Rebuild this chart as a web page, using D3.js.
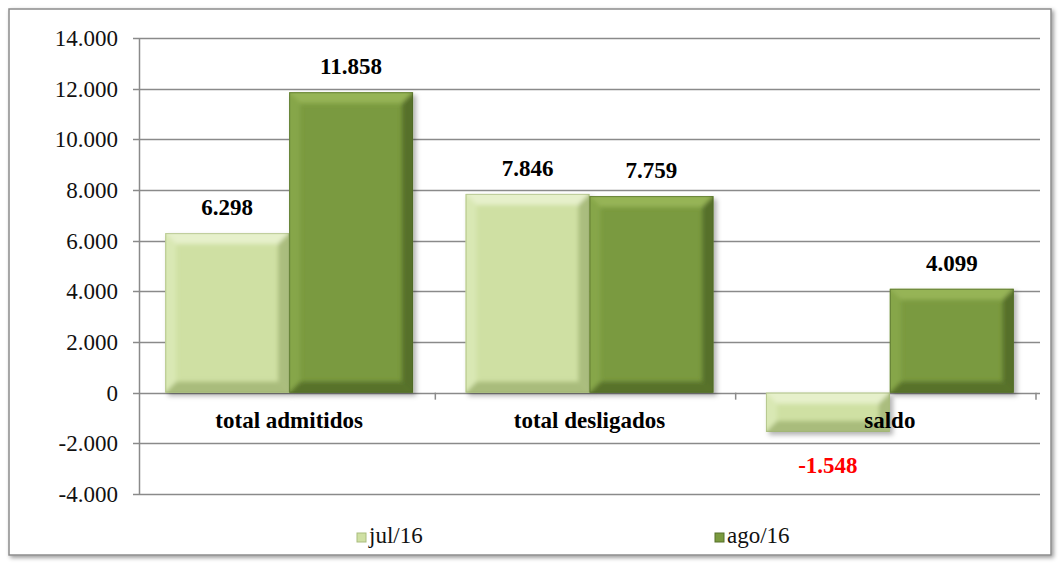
<!DOCTYPE html>
<html>
<head>
<meta charset="utf-8">
<script src="https://cdn.jsdelivr.net/npm/d3@7"></script>
<style>
  body { margin: 0; background: #fff; }
  text { font-family: "Liberation Serif", "Times New Roman", serif; }
</style>
</head>
<body>
<div id="chart"></div>
<script>
const categories = ['total admitidos', 'total desligados', 'saldo']
const seriesNames = ['jul/16', 'ago/16']
const jul16 = [6298, 7846, -1548]
const ago16 = [11858, 7759, 4099]
const yTicks = [-4000, -2000, 0, 2000, 4000, 6000, 8000, 10000, 12000, 14000]

const width = 1061, height = 566
const margin = {top: 38, right: 21, bottom: 72, left: 139}

const fmt = v => d3.format(',')(v).replace(/,/g, '.').replace('\u2212', '-')

const svg = d3.select('#chart').append('svg')
    .attr('width', width)
    .attr('height', height)

const defs = svg.append('defs')
const shadow = defs.append('filter').attr('id', 'shadow')
    .attr('x', '-10%').attr('y', '-10%').attr('width', '130%').attr('height', '130%')
shadow.append('feDropShadow')
    .attr('dx', 3).attr('dy', 3).attr('stdDeviation', 2.5)
    .attr('flood-color', '#000').attr('flood-opacity', 0.3)

const soft = defs.append('filter').attr('id', 'soft')
soft.append('feGaussianBlur').attr('stdDeviation', 2)

const frameShadow = defs.append('filter').attr('id', 'frameShadow')
    .attr('x', '-5%').attr('y', '-5%').attr('width', '110%').attr('height', '110%')
frameShadow.append('feDropShadow')
    .attr('dx', 2).attr('dy', 2).attr('stdDeviation', 2)
    .attr('flood-color', '#000').attr('flood-opacity', 0.4)

// outer frame
svg.append('rect')
    .attr('x', 9).attr('y', 9)
    .attr('width', 1042).attr('height', 546)
    .attr('fill', '#fff')
    .attr('stroke', '#8c8c8c')
    .attr('stroke-width', 1.5)
    .attr('filter', 'url(#frameShadow)')

const x0 = d3.scaleBand()
    .domain(categories)
    .range([margin.left, width - margin.right])
    .paddingInner(0.175)
    .paddingOuter(0.0875)

const x1 = d3.scaleBand()
    .domain(seriesNames)
    .range([0, x0.bandwidth()])

const y = d3.scaleLinear()
    .domain([-4000, 14000])
    .range([height - margin.bottom, margin.top])

const colors = {
    'jul/16': {main: '#cfe0a3', top: '#e6f0cb', left: '#d9e8b4', right: '#aabd7e', bottom: '#a9bc7c', edge: '#9fb274'},
    'ago/16': {main: '#7a9a3f', top: '#96b457', left: '#86a64a', right: '#56702b', bottom: '#58722c', edge: '#4d6526'}
}

// gridlines
svg.append('g')
    .selectAll('line')
    .data(yTicks)
    .join('line')
    .attr('x1', margin.left - 6)
    .attr('x2', width - margin.right)
    .attr('y1', d => Math.round(y(d)) + 0.5)
    .attr('y2', d => Math.round(y(d)) + 0.5)
    .attr('stroke', '#8a8a8a')
    .attr('stroke-width', 1.5)

// y axis line
svg.append('line')
    .attr('x1', margin.left + 0.5).attr('x2', margin.left + 0.5)
    .attr('y1', y(14000)).attr('y2', y(-4000))
    .attr('stroke', '#8a8a8a').attr('stroke-width', 1.5)

// y tick labels
svg.append('g')
    .selectAll('text')
    .data(yTicks)
    .join('text')
    .attr('x', margin.left - 21)
    .attr('y', d => y(d))
    .attr('dy', '0.35em')
    .attr('text-anchor', 'end')
    .attr('font-size', 23)
    .attr('fill', '#111')
    .text(fmt)

// category axis ticks
const catEdges = categories.map(c => x0(c) - x0.step() * x0.paddingInner() / 2).slice(1)
catEdges.push(width - margin.right)
svg.append('g')
    .selectAll('line')
    .data(catEdges)
    .join('line')
    .attr('x1', d => d - 4).attr('x2', d => d - 4)
    .attr('y1', y(0)).attr('y2', y(0) + 7)
    .attr('stroke', '#8a8a8a').attr('stroke-width', 1.5)

const rows = categories.map((c, i) => ({
    category: c,
    values: [
        {series: 'jul/16', value: jul16[i]},
        {series: 'ago/16', value: ago16[i]}
    ]
}))

const bevel = 11
let clipId = 0

const drawBar = (g, d) => {
    const c = colors[d.series]
    const bx = x0(d.category) + x1(d.series)
    const bw = x1.bandwidth()
    const top = y(Math.max(0, d.value))
    const bot = y(Math.min(0, d.value))
    const bh = bot - top
    const b = Math.min(bevel, bh / 3)
    const id = 'clip' + (clipId++)
    defs.append('clipPath').attr('id', id)
        .append('rect')
        .attr('x', bx).attr('y', top)
        .attr('width', bw).attr('height', bh)
    const bar = g.append('g').attr('filter', 'url(#shadow)')
    bar.append('rect')
        .attr('x', bx).attr('y', top)
        .attr('width', bw).attr('height', bh)
        .attr('fill', c.main)
    const pts = {
        tl: [bx - 4, top - 4], tr: [bx + bw + 4, top - 4], br: [bx + bw + 4, bot + 4], bl: [bx - 4, bot + 4],
        itl: [bx + b, top + b], itr: [bx + bw - b, top + b],
        ibr: [bx + bw - b, bot - b], ibl: [bx + b, bot - b]
    }
    const faces = [
        {p: [pts.tl, pts.tr, pts.itr, pts.itl], fill: c.top},
        {p: [pts.tl, pts.itl, pts.ibl, pts.bl], fill: c.left},
        {p: [pts.tr, pts.br, pts.ibr, pts.itr], fill: c.right},
        {p: [pts.bl, pts.ibl, pts.ibr, pts.br], fill: c.bottom}
    ]
    const inner = bar.append('g').attr('clip-path', `url(#${id})`)
    inner.append('g').attr('filter', 'url(#soft)')
        .selectAll('polygon')
        .data(faces)
        .join('polygon')
        .attr('points', f => f.p.map(p => p.join(',')).join(' '))
        .attr('fill', f => f.fill)
    bar.append('rect')
        .attr('x', bx + 0.5).attr('y', top + 0.5)
        .attr('width', bw - 1).attr('height', bh - 1)
        .attr('fill', 'none')
        .attr('stroke', c.edge)
        .attr('stroke-opacity', 0.6)
}

const barsG = svg.append('g')
rows.forEach(r => r.values.forEach(v => drawBar(barsG, {category: r.category, ...v})))

// value labels
const labels = rows.flatMap(r => r.values.map(v => ({category: r.category, ...v})))
svg.append('g')
    .selectAll('text')
    .data(labels)
    .join('text')
    .attr('x', d => x0(d.category) + x1(d.series) + x1.bandwidth() / 2)
    .attr('y', d => d.value >= 0 ? y(d.value) - 18 : y(d.value) + 41)
    .attr('text-anchor', 'middle')
    .attr('font-size', 23)
    .attr('font-weight', 'bold')
    .attr('fill', d => d.value < 0 ? '#ff0000' : '#000')
    .text(d => fmt(d.value))

// category labels
svg.append('g')
    .selectAll('text')
    .data(categories)
    .join('text')
    .attr('x', d => x0(d) + x0.bandwidth() / 2)
    .attr('y', y(0) + 35)
    .attr('text-anchor', 'middle')
    .attr('font-size', 23)
    .attr('font-weight', 'bold')
    .attr('fill', '#000')
    .text(d => d)

// legend
const legendX = [357, 715]
const legend = svg.append('g')
    .selectAll('g')
    .data(seriesNames)
    .join('g')
    .attr('transform', (d, i) => `translate(${legendX[i]},${537})`)
legend.append('rect')
    .attr('x', 0).attr('y', -4)
    .attr('width', 9).attr('height', 9)
    .attr('fill', d => colors[d].main)
    .attr('stroke', d => colors[d].right)
    .attr('stroke-width', 1)
legend.append('text')
    .attr('x', 12)
    .attr('y', 6)
    .attr('font-size', 23)
    .attr('fill', '#111')
    .text(d => d)
</script>
</body>
</html>
